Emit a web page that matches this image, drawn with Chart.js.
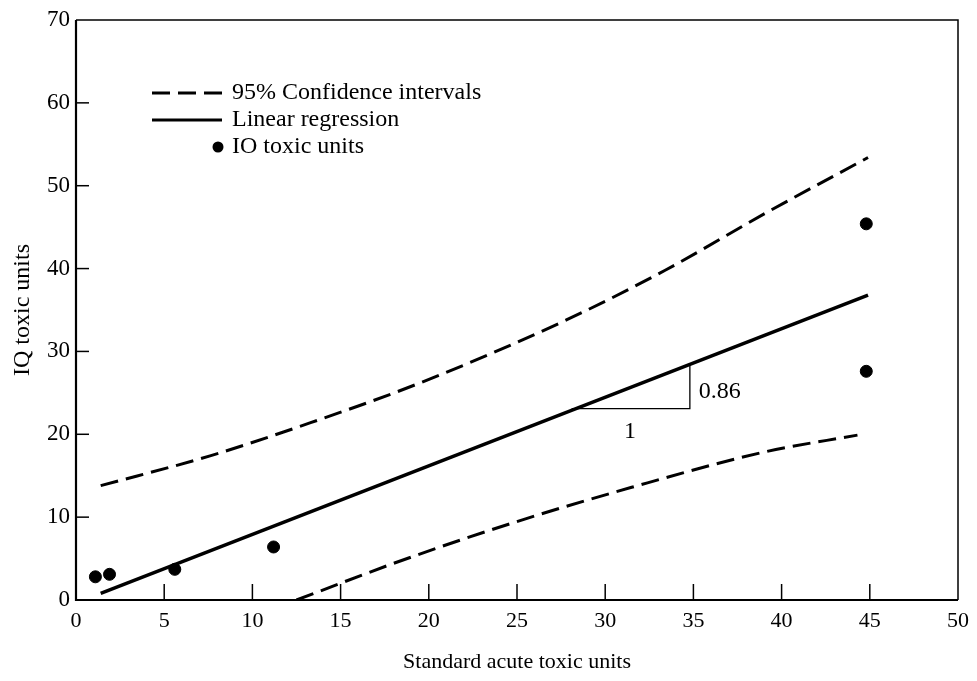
<!DOCTYPE html>
<html>
<head>
<meta charset="utf-8">
<script src="https://cdn.jsdelivr.net/npm/chart.js@4.4.0/dist/chart.umd.min.js"></script>
<style>
  html, body { margin: 0; padding: 0; background: #fff; }
  canvas { display: block; }
</style>
</head>
<body>
<canvas id="toxChart" width="977" height="681"></canvas>
<script>
// 95% 신뢰구간 (위/아래)
const ciUpperX = [1.4, 7.6, 13.3, 19.5, 27.8, 33.4, 39.1, 44.9];
const ciUpperY = [13.8, 17.4, 21.4, 26.2, 33.8, 39.8, 46.7, 53.4];
const ciLowerX = [12.5, 18.5, 24.9, 31.5, 39.1, 44.3];
const ciLowerY = [0, 4.8, 9.4, 13.6, 17.9, 19.9];

// 선형 회귀선
const regX = [1.4, 44.9];
const regY = [0.8, 36.8];

// IQ 독성 단위 측정값
const pointX = [1.1, 1.9, 5.6, 11.2, 44.8, 44.8];
const pointY = [2.8, 3.1, 3.7, 6.4, 45.4, 27.6];

// 기울기 삼각형
const slopeX = [28.1, 34.8, 34.8];
const slopeY = [23.1, 23.1, 28.3];
const slopeLabels = ['0.86', '1'];
const slopeLabelX = [35.3, 31.4];
const slopeLabelY = [25.1, 20.3];

// 축 눈금
const xTicks = [0, 5, 10, 15, 20, 25, 30, 35, 40, 45, 50];
const yTicks = [0, 10, 20, 30, 40, 50, 60, 70];

const legendLabels = ['95% Confidence intervals', 'Linear regression', 'IO toxic units'];

const FONT = '"Liberation Serif", "DejaVu Serif", serif';

function toPoints(xs, ys) {
    return xs.map((x, i) => ({ x: x, y: ys[i] }));
}

// 박스 테두리, 안쪽 눈금, 범례, 삼각형 라벨
const decorPlugin = {
    id: 'decor',
    afterDraw(chart) {
        const c = chart.ctx;
        const a = chart.chartArea;
        const xs = chart.scales.x;
        const ys = chart.scales.y;
        c.save();
        c.strokeStyle = '#000';

        // 테두리
        c.lineWidth = 1.5;
        c.beginPath();
        c.moveTo(a.left, a.top);
        c.lineTo(a.right, a.top);
        c.lineTo(a.right, a.bottom);
        c.stroke();
        c.lineWidth = 2.2;
        c.beginPath();
        c.moveTo(a.left, a.top);
        c.lineTo(a.left, a.bottom);
        c.lineTo(a.right, a.bottom);
        c.stroke();

        // 안쪽 눈금
        c.lineWidth = 1.5;
        xTicks.forEach(v => {
            if (v === 0 || v === 50) return;
            const px = xs.getPixelForValue(v);
            c.beginPath();
            c.moveTo(px, a.bottom);
            c.lineTo(px, a.bottom - 16);
            c.stroke();
        });
        yTicks.forEach(v => {
            if (v === 0 || v === 70) return;
            const py = ys.getPixelForValue(v);
            c.beginPath();
            c.moveTo(a.left, py);
            c.lineTo(a.left + 13, py);
            c.stroke();
        });

        // 삼각형 라벨
        c.fillStyle = '#000';
        c.font = '24px ' + FONT;
        c.textBaseline = 'middle';
        c.textAlign = 'left';
        c.fillText(slopeLabels[0], xs.getPixelForValue(slopeLabelX[0]), ys.getPixelForValue(slopeLabelY[0]));
        c.textAlign = 'center';
        c.fillText(slopeLabels[1], xs.getPixelForValue(slopeLabelX[1]), ys.getPixelForValue(slopeLabelY[1]));

        // 범례
        const lx = a.left + 76;
        const ly = a.top + 73;
        const gap = 27;
        c.lineWidth = 3;
        c.setLineDash([18, 8]);
        c.beginPath();
        c.moveTo(lx, ly);
        c.lineTo(lx + 70, ly);
        c.stroke();
        c.setLineDash([]);
        c.beginPath();
        c.moveTo(lx, ly + gap);
        c.lineTo(lx + 70, ly + gap);
        c.stroke();
        c.beginPath();
        c.arc(lx + 66, ly + gap * 2, 5.5, 0, Math.PI * 2);
        c.fill();
        c.textAlign = 'left';
        c.fillText(legendLabels[0], lx + 80, ly);
        c.fillText(legendLabels[1], lx + 80, ly + gap);
        c.fillText(legendLabels[2], lx + 80, ly + gap * 2);
        c.restore();
    }
};

const dashed = {
    borderColor: '#000',
    borderWidth: 3,
    borderDash: [18, 8],
    pointRadius: 0,
    showLine: true,
    fill: false,
    cubicInterpolationMode: 'monotone'
};

new Chart(document.getElementById('toxChart'), {
    type: 'scatter',
    data: {
        datasets: [
            Object.assign({ label: legendLabels[0], data: toPoints(ciUpperX, ciUpperY) }, dashed),
            Object.assign({ label: 'lower', data: toPoints(ciLowerX, ciLowerY) }, dashed),
            {
                label: legendLabels[1],
                data: toPoints(regX, regY),
                borderColor: '#000',
                borderWidth: 3.5,
                pointRadius: 0,
                showLine: true
            },
            {
                label: 'slope',
                data: toPoints(slopeX, slopeY),
                borderColor: '#000',
                borderWidth: 1.3,
                pointRadius: 0,
                showLine: true
            },
            {
                label: legendLabels[2],
                data: toPoints(pointX, pointY),
                backgroundColor: '#000',
                borderColor: '#000',
                pointRadius: 6,
                showLine: false
            }
        ]
    },
    options: {
        responsive: false,
        animation: false,
        layout: { padding: { top: 20, right: 16, left: 0, bottom: 0 } },
        plugins: {
            legend: { display: false },
            tooltip: { enabled: false }
        },
        scales: {
            x: {
                type: 'linear',
                min: 0,
                max: 50,
                afterBuildTicks: scale => { scale.ticks = xTicks.map(v => ({ value: v })); },
                afterFit: scale => { scale.height = 81; },
                grid: { display: false, drawTicks: false },
                border: { display: false },
                ticks: { color: '#000', padding: 8, font: { family: FONT, size: 22 } },
                title: {
                    display: true,
                    text: 'Standard acute toxic units',
                    color: '#000',
                    padding: { top: 0, bottom: 6 },
                    font: { family: FONT, size: 22 }
                }
            },
            y: {
                type: 'linear',
                min: 0,
                max: 70,
                afterBuildTicks: scale => { scale.ticks = yTicks.map(v => ({ value: v })); },
                afterFit: scale => { scale.width = 76; },
                grid: { display: false, drawTicks: false },
                border: { display: false },
                ticks: { color: '#000', padding: 6, font: { family: FONT, size: 23 } },
                title: {
                    display: true,
                    text: 'IQ toxic units',
                    color: '#000',
                    padding: { top: 8, bottom: 0 },
                    font: { family: FONT, size: 24 }
                }
            }
        }
    },
    plugins: [decorPlugin]
});
</script>
</body>
</html>
